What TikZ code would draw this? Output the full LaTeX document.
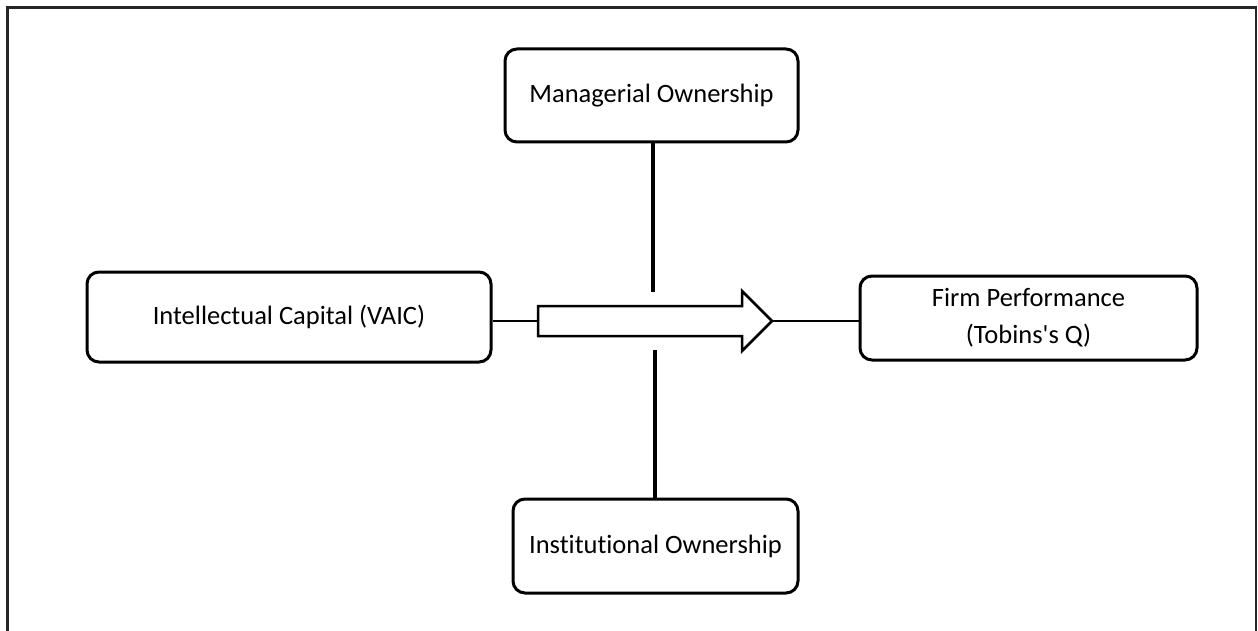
\documentclass[tikz,border=0pt]{standalone}
\usepackage{fontspec}
\setmainfont{Carlito}[Ligatures={TeXOff,NoCommon}]
\begin{document}
\begin{tikzpicture}[x=1pt,y=-1pt,
  box/.style={draw=black,line width=3pt,rounded corners=12pt,inner sep=0pt,align=center,font=\fontsize{26.5}{37}\selectfont},
  conn/.style={draw=black,line width=2.5pt},
  mod/.style={draw=black,line width=4pt}]
\useasboundingbox (0,0) rectangle (1258,631);
\draw[line width=2.5pt,draw=black!85] (7.5,631) -- (7.5,7.5) -- (1256,7.5) -- (1256,631);
% boxes
\node[box,minimum width=293pt,minimum height=93pt] (M) at (651.5,95.5) {Managerial Ownership};
\node[box,minimum width=285pt,minimum height=94pt] (I) at (655.5,546) {Institutional Ownership};
\node[box,minimum width=404pt,minimum height=90pt] (L) at (289,317) {Intellectual Capital (VAIC)};
\node[box,minimum width=337pt,minimum height=84pt] (R) at (1028.5,318) {Firm Performance\\(Tobins's Q)};
% arrow
\coordinate (aT) at (538,321);
\coordinate (aH) at (772,321);
\draw[line width=2.5pt,fill=white,line join=miter]
  (538,306) -- (742,306) -- (742,291) -- (aH) -- (742,351) -- (742,336) -- (538,336) -- cycle;
\draw[conn] (L.east |- aT) -- (aT);
\draw[conn] (aH) -- (R.west |- aH);
% moderator lines
\coordinate (mEnd) at (653,292);
\coordinate (iEnd) at (655,350);
\draw[mod] (M.south -| mEnd) -- (mEnd);
\draw[mod] (iEnd) -- (I.north -| iEnd);
\end{tikzpicture}
\end{document}
